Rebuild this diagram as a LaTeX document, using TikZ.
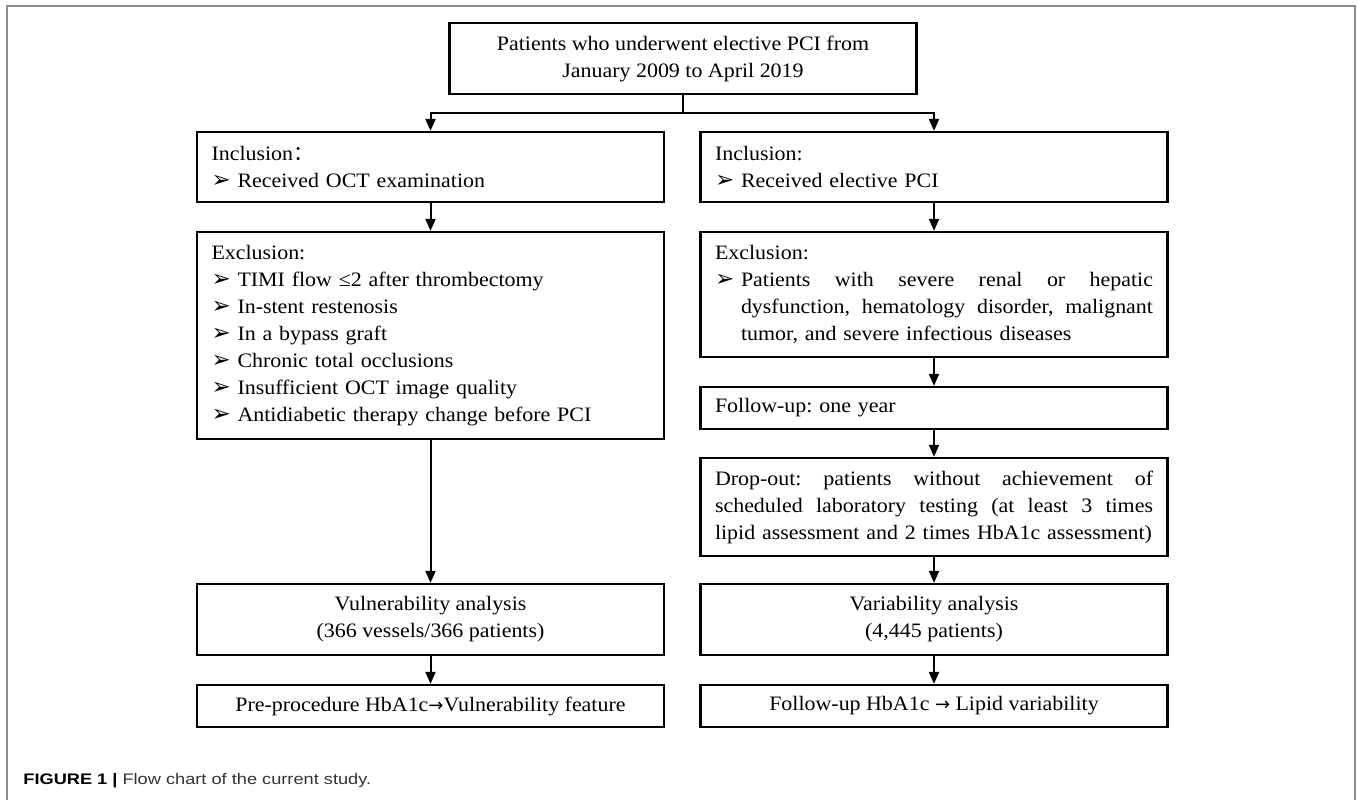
\documentclass[tikz,border=0pt]{standalone}
\usepackage{fontspec}
\setmainfont[FakeStretch=1.07]{Liberation Serif}
\newfontfamily\capfont[FakeStretch=1.19]{Liberation Sans}
\newfontfamily\bulfont{DejaVu Sans}
\newfontfamily\cjkfont{Noto Sans CJK SC}
\usetikzlibrary{arrows.meta}
\newcommand{\mybul}{\makebox[13pt][l]{\bulfont\fontsize{11.5}{11.5}\selectfont ➢}}
\newcommand{\myarr}{{\bulfont\fontsize{9}{9}\selectfont →}}
\newcommand{\jline}[2]{\makebox[#1][s]{\spaceskip=3.6pt plus 30pt\relax #2}}
\newcommand{\boxfont}{\fontsize{10.25}{13.5}\selectfont\frenchspacing}
\begin{document}
\begin{tikzpicture}[x=0.5pt,y=-0.5pt,
  box/.style={draw, line width=1.15pt, inner sep=0pt, minimum width=233.5pt, font=\boxfont},
  lbox/.style={box, text width=219pt, align=left},
  cbox/.style={box, align=center},
  arr/.style={line width=1pt, -{Triangle[length=6pt,width=5pt]}},
  frame/.style={line width=0.9pt, draw={rgb,255:red,140;green,140;blue,140}},
]
\fill[white] (0,0) rectangle (1358,800);
\useasboundingbox (0,0) rectangle (1358,800);
\draw[frame] (7,800) -- (7,6) -- (1355,6) -- (1355,800);

\node[cbox, minimum height=35.5pt] (top) at (683,58.5) {Patients who underwent elective PCI from\\January 2009 to April 2019};

\node[lbox, minimum height=35pt] (linc) at (430.5,167) {Inclusion{\cjkfont ：}\\\mybul Received OCT examination};
\node[lbox, minimum height=103.5pt] (lexc) at (430.5,335.5) {Exclusion:\\\mybul TIMI flow ≤2 after thrombectomy\\\mybul In-stent restenosis\\\mybul In a bypass graft\\\mybul Chronic total occlusions\\\mybul Insufficient OCT image quality\\\mybul Antidiabetic therapy change before PCI};
\node[cbox, minimum height=35.5pt] (lvul) at (430.5,619.5) {Vulnerability analysis\\(366 vessels/366 patients)};
\node[cbox, minimum height=21pt] (lpre) at (430.5,706) {Pre-procedure HbA1c\myarr Vulnerability feature};

\node[lbox, minimum height=35pt] (rinc) at (934,167) {Inclusion:\\\mybul Received elective PCI};
\node[lbox, minimum height=62.5pt] (rexc) at (934,294.5) {Exclusion:\\\mybul\jline{206pt}{Patients with severe renal or hepatic}\\\hspace*{13pt}\jline{206pt}{dysfunction, hematology disorder, malignant}\\\hspace*{13pt}tumor, and severe infectious diseases};
\node[lbox, minimum height=21pt] (rfol) at (934,408) {Follow-up: one year};
\node[lbox, minimum height=49pt] (rdrop) at (934,507) {\jline{219pt}{Drop-out: patients without achievement of}\\\jline{219pt}{scheduled laboratory testing (at least 3 times}\\\makebox[219pt][l]{lipid assessment and 2 times HbA1c assessment)}};
\node[cbox, minimum height=35.5pt] (rvar) at (934,619.5) {Variability analysis\\(4,445 patients)};
\node[cbox, minimum height=21pt] (rfin) at (934,706) {Follow-up HbA1c \myarr{} Lipid variability};

\coordinate (split) at (683,113);
\draw[line width=1pt] (top.south) -- (split);
\draw[arr] (split) -| (linc.north);
\draw[arr] (split) -| (rinc.north);
\draw[arr] (linc.south) -- (lexc.north);
\draw[arr] (lexc.south) -- (lvul.north);
\draw[arr] (lvul.south) -- (lpre.north);
\draw[arr] (rinc.south) -- (rexc.north);
\draw[arr] (rexc.south) -- (rfol.north);
\draw[arr] (rfol.south) -- (rdrop.north);
\draw[arr] (rdrop.south) -- (rvar.north);
\draw[arr] (rvar.south) -- (rfin.north);

\node[anchor=base west, inner sep=0pt, font=\capfont\fontsize{7.65}{9}\selectfont] (cap) at (23,784) {\textbf{FIGURE 1 |} {\color[HTML]{333333}Flow chart of the current study.}};
\end{tikzpicture}
\end{document}
